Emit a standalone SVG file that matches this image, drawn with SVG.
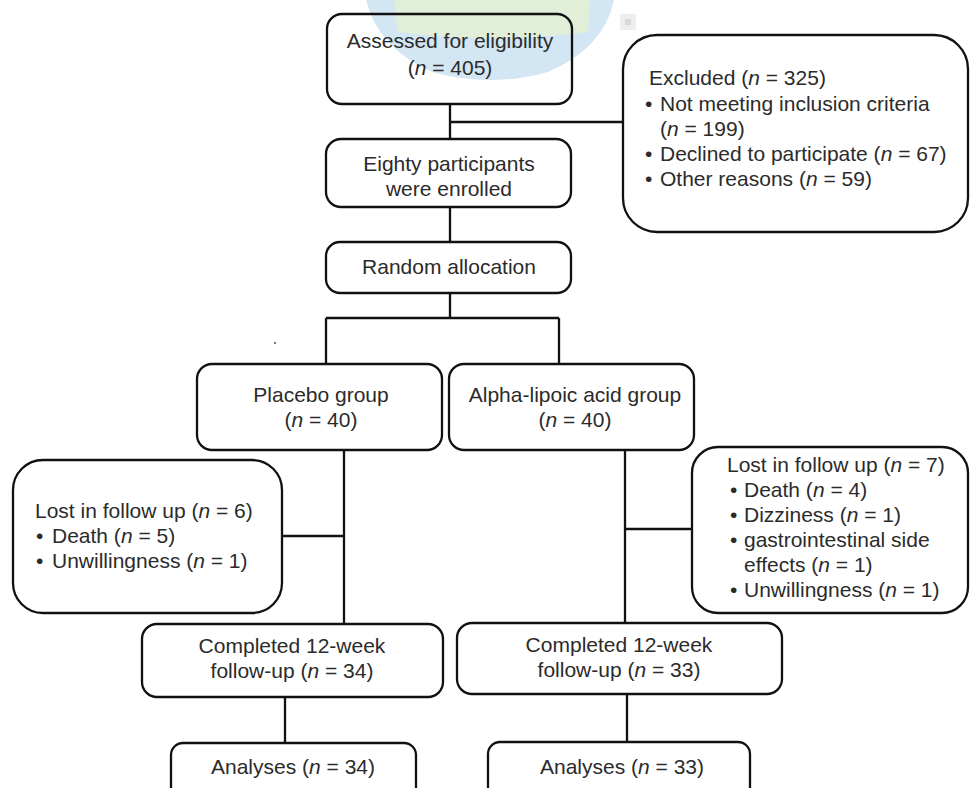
<svg xmlns="http://www.w3.org/2000/svg" width="970" height="788" viewBox="0 0 970 788">
<style>
.box{fill:#fff;stroke:#111;stroke-width:2.3}
.ln{stroke:#111;stroke-width:2.3;fill:none}
text{font-family:"Liberation Sans",Arial,sans-serif;font-size:21px;fill:#2b2b2b}
.c{text-anchor:middle}
.i{font-style:italic}
</style>
<rect width="970" height="788" fill="#fff"/>
<g id="watermark">
<path d="M366 0 L614 0 Q604 48 548 72 Q490 88 432 72 Q378 48 366 0 Z" fill="#d2e6f3"/>
<path d="M394 0 L590 0 L588 32 Q490 44 398 32 Z" fill="#e2efd8"/>
<rect x="620" y="14" width="16" height="16" fill="#ededed"/>
<rect x="625" y="19" width="6" height="6" fill="#dadada"/>
</g>
<g id="connectors">
<path class="ln" d="M450 104 V139 M450 122 H623 M450 207 V242 M450 293 V318 M326 318 H559 M326 318 V364 M559 318 V364 M344 450 V624 M282 536 H344 M625 450 V623 M625 529 H692 M285 697 V743 M627 694 V742"/>
</g>
<circle cx="275" cy="343" r="0.9" fill="#333"/>
<g id="assessed">
<rect class="box" x="327" y="14" width="245" height="90" rx="15" style="fill:none"/>
<text class="c" x="450" y="48">Assessed for eligibility</text>
<text class="c" x="450" y="75">(<tspan class="i">n</tspan> = 405)</text>
</g>
<g id="excluded">
<rect class="box" x="623" y="35" width="345" height="197" rx="34"/>
<text x="649" y="85">Excluded (<tspan class="i">n</tspan> = 325)</text>
<text x="645" y="111">•</text><text x="660" y="111">Not meeting inclusion criteria</text>
<text x="660" y="136">(<tspan class="i">n</tspan> = 199)</text>
<text x="645" y="161">•</text><text x="660" y="161">Declined to participate (<tspan class="i">n</tspan> = 67)</text>
<text x="645" y="186">•</text><text x="660" y="186">Other reasons (<tspan class="i">n</tspan> = 59)</text>
</g>
<g id="enrolled">
<rect class="box" x="326" y="139" width="245" height="68" rx="15"/>
<text class="c" x="449" y="171">Eighty participants</text>
<text class="c" x="449" y="196">were enrolled</text>
</g>
<g id="random">
<rect class="box" x="326" y="242" width="245" height="51" rx="14"/>
<text class="c" x="449" y="274">Random allocation</text>
</g>
<g id="placebo">
<rect class="box" x="197" y="364" width="245" height="86" rx="15"/>
<text class="c" x="321" y="402">Placebo group</text>
<text class="c" x="321" y="427">(<tspan class="i">n</tspan> = 40)</text>
</g>
<g id="ala">
<rect class="box" x="449" y="364" width="245" height="86" rx="15"/>
<text class="c" x="575" y="402">Alpha-lipoic acid group</text>
<text class="c" x="575" y="427">(<tspan class="i">n</tspan> = 40)</text>
</g>
<g id="lost-placebo">
<rect class="box" x="13" y="460" width="269" height="153" rx="30"/>
<text x="35" y="518">Lost in follow up (<tspan class="i">n</tspan> = 6)</text>
<text x="36" y="543">•</text><text x="52" y="543">Death (<tspan class="i">n</tspan> = 5)</text>
<text x="36" y="568">•</text><text x="52" y="568">Unwillingness (<tspan class="i">n</tspan> = 1)</text>
</g>
<g id="lost-ala">
<rect class="box" x="692" y="447" width="276" height="166" rx="26"/>
<text x="727" y="472">Lost in follow up (<tspan class="i">n</tspan> = 7)</text>
<text x="730" y="497">•</text><text x="744" y="497">Death (<tspan class="i">n</tspan> = 4)</text>
<text x="730" y="522">•</text><text x="744" y="522">Dizziness (<tspan class="i">n</tspan> = 1)</text>
<text x="730" y="547">•</text><text x="744" y="547">gastrointestinal side</text>
<text x="744" y="572">effects (<tspan class="i">n</tspan> = 1)</text>
<text x="730" y="597">•</text><text x="744" y="597">Unwillingness (<tspan class="i">n</tspan> = 1)</text>
</g>
<g id="completed-placebo">
<rect class="box" x="142" y="624" width="301" height="73" rx="15"/>
<text class="c" x="292" y="653">Completed 12-week</text>
<text class="c" x="292" y="678">follow-up (<tspan class="i">n</tspan> = 34)</text>
</g>
<g id="completed-ala">
<rect class="box" x="457" y="623" width="325" height="71" rx="15"/>
<text class="c" x="619" y="652">Completed 12-week</text>
<text class="c" x="619" y="677">follow-up (<tspan class="i">n</tspan> = 33)</text>
</g>
<g id="analyses-placebo">
<rect class="box" x="171" y="743" width="245" height="70" rx="12"/>
<text class="c" x="293" y="774">Analyses (<tspan class="i">n</tspan> = 34)</text>
</g>
<g id="analyses-ala">
<rect class="box" x="488" y="742" width="262" height="70" rx="12"/>
<text class="c" x="622" y="774">Analyses (<tspan class="i">n</tspan> = 33)</text>
</g>
</svg>
